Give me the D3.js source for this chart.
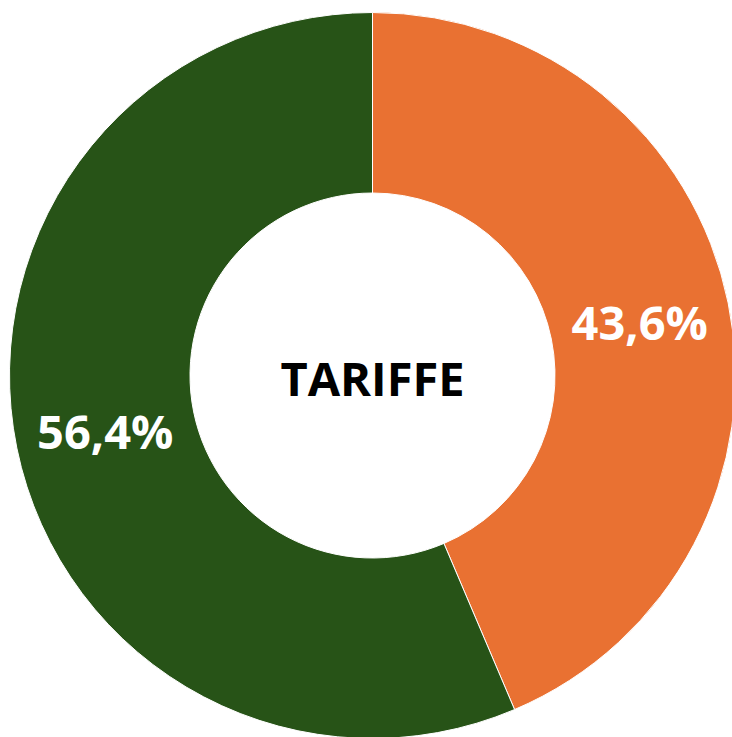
<!DOCTYPE html>
<html lang="it">
<head>
    <meta charset="utf-8">
    <title>Tariffe</title>
    <style type="text/css">
        body { margin: 0; background: #fff; }
        .donut text { font-family: "Open Sans", sans-serif; font-weight: bold; }
    </style>
</head>
<body>
   <svg class="donut" width="732" height="737"></svg>

   <script src="https://d3js.org/d3.v7.min.js"></script>
   <script>
        // dati
        var categories = ['Quota A', 'Quota B'];
        var values = [43.6, 56.4];
        var labels = ['43,6%', '56,4%'];
        var colors = ['#E97132', '#275317'];
        var title = 'TARIFFE';

        var svg = d3.select('.donut'),
            cx = 372.5,
            cy = 375.5,
            outer_r = 363,
            inner_r = 182.5;

        var g = svg.append('g')
                .attr('transform', 'translate(' + cx + ',' + cy + ')');

        var pie = d3.pie()
                .sort(null)
                .value(function(d) { return d; });

        var arc = d3.arc()
                .innerRadius(inner_r)
                .outerRadius(outer_r);

        var arcs = pie(values);

        // fette
        g.selectAll('path')
            .data(arcs)
            .enter().append('path')
            .attr('d', arc)
            .attr('fill', function(d, i) { return colors[i]; })
            .attr('stroke', '#fff')
            .attr('stroke-width', 1);

        // etichette sul centroide
        g.selectAll('text.lbl')
            .data(arcs)
            .enter().append('text')
            .attr('class', 'lbl')
            .attr('transform', function(d) {
                var c = arc.centroid(d);
                return 'translate(' + c[0] + ',' + (c[1] + 1) + ')';
            })
            .attr('text-anchor', 'middle')
            .attr('dominant-baseline', 'central')
            .attr('fill', '#fff')
            .style('font-size', '47px')
            .text(function(d, i) { return labels[i]; });

        // titolo al centro
        g.append('text')
            .attr('x', 0)
            .attr('y', 2)
            .attr('text-anchor', 'middle')
            .attr('dominant-baseline', 'central')
            .attr('fill', '#000')
            .style('font-size', '47px')
            .text(title);
   </script>
</body>
</html>
